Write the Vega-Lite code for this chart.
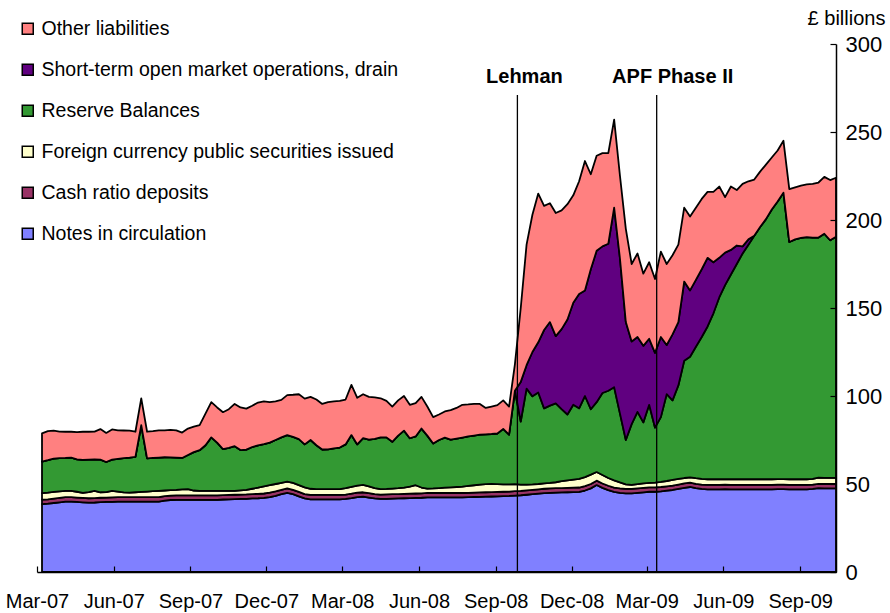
{
  "$schema": "https://vega.github.io/schema/vega-lite/v6.json",
  "autosize": "none",
  "width": 799,
  "height": 528,
  "padding": {"left": 37, "top": 44, "right": 54, "bottom": 41},
  "background": "white",
  "config": {"view": {"stroke": null}, "font": "Liberation Sans"},
  "layer": [
    {
      "data": {"values": [
        {"date":"2007-03-07","notes":38.6,"cash":2.5,"foreign":3.7,"reserves":17.9,"omo":0,"other":16.1},
        {"date":"2007-03-14","notes":38.8,"cash":2.5,"foreign":3.8,"reserves":18.4,"omo":0,"other":16.5},
        {"date":"2007-03-21","notes":39.2,"cash":2.5,"foreign":3.8,"reserves":18.9,"omo":0,"other":15.9},
        {"date":"2007-03-28","notes":39.6,"cash":2.5,"foreign":3.7,"reserves":18.9,"omo":0,"other":15.1},
        {"date":"2007-04-04","notes":40,"cash":2.5,"foreign":3.6,"reserves":18.7,"omo":0,"other":14.9},
        {"date":"2007-04-11","notes":40,"cash":2.5,"foreign":3.6,"reserves":18.9,"omo":0,"other":14.7},
        {"date":"2007-04-18","notes":39.8,"cash":2.5,"foreign":3.3,"reserves":18.4,"omo":0,"other":15.5},
        {"date":"2007-04-25","notes":39.6,"cash":2.5,"foreign":2.9,"reserves":18.7,"omo":0,"other":16},
        {"date":"2007-05-02","notes":39.4,"cash":2.5,"foreign":3.5,"reserves":18.5,"omo":0,"other":15.8},
        {"date":"2007-05-09","notes":39.5,"cash":2.5,"foreign":4.1,"reserves":17.9,"omo":0,"other":15.8},
        {"date":"2007-05-16","notes":39.7,"cash":2.5,"foreign":3.1,"reserves":18.5,"omo":0,"other":17.4},
        {"date":"2007-05-23","notes":39.8,"cash":2.5,"foreign":3.1,"reserves":17.1,"omo":0,"other":16.5},
        {"date":"2007-05-30","notes":39.9,"cash":2.5,"foreign":3.7,"reserves":17.7,"omo":0,"other":17.2},
        {"date":"2007-06-06","notes":40,"cash":2.5,"foreign":3.2,"reserves":18.6,"omo":0,"other":16.2},
        {"date":"2007-06-13","notes":40,"cash":2.5,"foreign":2.7,"reserves":19.5,"omo":0,"other":15.7},
        {"date":"2007-06-20","notes":40,"cash":2.5,"foreign":2.6,"reserves":19.9,"omo":0,"other":15.3},
        {"date":"2007-06-27","notes":40,"cash":2.5,"foreign":2.8,"reserves":20.1,"omo":0,"other":14.3},
        {"date":"2007-07-04","notes":40,"cash":2.5,"foreign":3.0,"reserves":38,"omo":0,"other":15.2},
        {"date":"2007-07-11","notes":40,"cash":2.5,"foreign":3.2,"reserves":18.9,"omo":0,"other":15.1},
        {"date":"2007-07-18","notes":40,"cash":2.5,"foreign":3.4,"reserves":18.9,"omo":0,"other":15.2},
        {"date":"2007-07-25","notes":40,"cash":2.5,"foreign":3.6,"reserves":18.9,"omo":0,"other":15.5},
        {"date":"2007-08-01","notes":40.6,"cash":2.5,"foreign":3.2,"reserves":18.9,"omo":0,"other":15.3},
        {"date":"2007-08-08","notes":40.9,"cash":2.5,"foreign":3.1,"reserves":18.6,"omo":0,"other":15.7},
        {"date":"2007-08-15","notes":41,"cash":2.5,"foreign":3.2,"reserves":18.3,"omo":0,"other":15.5},
        {"date":"2007-08-22","notes":41,"cash":2.5,"foreign":3.5,"reserves":17.8,"omo":0,"other":14.4},
        {"date":"2007-08-29","notes":41,"cash":2.5,"foreign":3.6,"reserves":19.4,"omo":0,"other":15},
        {"date":"2007-09-05","notes":41,"cash":2.5,"foreign":2.8,"reserves":21.8,"omo":0,"other":14.5},
        {"date":"2007-09-12","notes":41,"cash":2.5,"foreign":2.6,"reserves":23.1,"omo":0,"other":14.3},
        {"date":"2007-09-19","notes":41,"cash":2.5,"foreign":2.6,"reserves":25.9,"omo":0,"other":18},
        {"date":"2007-09-26","notes":41,"cash":2.5,"foreign":2.6,"reserves":30.4,"omo":0,"other":20},
        {"date":"2007-10-03","notes":41,"cash":2.5,"foreign":2.6,"reserves":27.4,"omo":0,"other":20},
        {"date":"2007-10-10","notes":41.2,"cash":2.5,"foreign":2.4,"reserves":23.7,"omo":0,"other":21},
        {"date":"2007-10-17","notes":41.3,"cash":2.5,"foreign":2.3,"reserves":24.4,"omo":0,"other":22},
        {"date":"2007-10-24","notes":41.4,"cash":2.5,"foreign":2.2,"reserves":25.4,"omo":0,"other":24},
        {"date":"2007-10-31","notes":41.5,"cash":2.5,"foreign":2.4,"reserves":22.9,"omo":0,"other":24.2},
        {"date":"2007-11-07","notes":41.6,"cash":2.5,"foreign":2.6,"reserves":22.8,"omo":0,"other":23.3},
        {"date":"2007-11-14","notes":41.8,"cash":2.5,"foreign":3.0,"reserves":23.7,"omo":0,"other":23.5},
        {"date":"2007-11-21","notes":41.9,"cash":2.5,"foreign":3.5,"reserves":24.1,"omo":0,"other":24.3},
        {"date":"2007-11-28","notes":42.1,"cash":2.5,"foreign":4.0,"reserves":24,"omo":0,"other":24.4},
        {"date":"2007-12-05","notes":42.6,"cash":2.5,"foreign":4.2,"reserves":24.2,"omo":0,"other":23},
        {"date":"2007-12-12","notes":43.3,"cash":2.5,"foreign":4.2,"reserves":25,"omo":0,"other":22},
        {"date":"2007-12-19","notes":44.2,"cash":2.5,"foreign":4.0,"reserves":25.8,"omo":0,"other":21.3},
        {"date":"2007-12-26","notes":45,"cash":2.5,"foreign":3.9,"reserves":26.4,"omo":0,"other":22.7},
        {"date":"2008-01-02","notes":44.2,"cash":2.5,"foreign":3.9,"reserves":26.2,"omo":0,"other":23.9},
        {"date":"2008-01-09","notes":43,"cash":2.5,"foreign":3.9,"reserves":26.1,"omo":0,"other":25.5},
        {"date":"2008-01-16","notes":41.8,"cash":2.5,"foreign":3.8,"reserves":24.4,"omo":0,"other":26},
        {"date":"2008-01-23","notes":41.3,"cash":2.5,"foreign":3.5,"reserves":27.7,"omo":0,"other":24.5},
        {"date":"2008-01-30","notes":41.3,"cash":2.5,"foreign":3.3,"reserves":24.9,"omo":0,"other":26},
        {"date":"2008-02-06","notes":41.3,"cash":2.5,"foreign":3.3,"reserves":22.5,"omo":0,"other":25.9},
        {"date":"2008-02-13","notes":41.3,"cash":2.5,"foreign":3.3,"reserves":22.6,"omo":0,"other":26.8},
        {"date":"2008-02-20","notes":41.3,"cash":2.5,"foreign":3.3,"reserves":23.2,"omo":0,"other":26.6},
        {"date":"2008-02-27","notes":41.3,"cash":2.5,"foreign":3.3,"reserves":23.6,"omo":0,"other":26.5},
        {"date":"2008-03-05","notes":41.5,"cash":2.5,"foreign":3.6,"reserves":24.9,"omo":0,"other":25.5},
        {"date":"2008-03-12","notes":42,"cash":2.5,"foreign":3.9,"reserves":29.4,"omo":0,"other":28.5},
        {"date":"2008-03-19","notes":42.6,"cash":2.5,"foreign":4.0,"reserves":23.4,"omo":0,"other":26.5},
        {"date":"2008-03-26","notes":42.8,"cash":2.5,"foreign":4.2,"reserves":26.5,"omo":0,"other":25},
        {"date":"2008-04-02","notes":42.3,"cash":2.5,"foreign":3.8,"reserves":26.6,"omo":0,"other":24.3},
        {"date":"2008-04-09","notes":41.8,"cash":2.5,"foreign":3.3,"reserves":28.1,"omo":0,"other":23.5},
        {"date":"2008-04-16","notes":41.5,"cash":2.5,"foreign":3.1,"reserves":29.4,"omo":0,"other":22.2},
        {"date":"2008-04-23","notes":41.6,"cash":2.5,"foreign":3.1,"reserves":29.3,"omo":0,"other":20.7},
        {"date":"2008-04-30","notes":41.7,"cash":2.5,"foreign":3.2,"reserves":26.6,"omo":0,"other":20},
        {"date":"2008-05-07","notes":41.8,"cash":2.5,"foreign":3.3,"reserves":29.9,"omo":0,"other":20},
        {"date":"2008-05-14","notes":41.9,"cash":2.5,"foreign":3.5,"reserves":32.4,"omo":0,"other":19.7},
        {"date":"2008-05-21","notes":42,"cash":2.5,"foreign":4.0,"reserves":27.5,"omo":0,"other":19},
        {"date":"2008-05-28","notes":42.1,"cash":2.5,"foreign":4.7,"reserves":27.7,"omo":0,"other":19},
        {"date":"2008-06-04","notes":42.2,"cash":2.5,"foreign":3.3,"reserves":33.5,"omo":0,"other":18},
        {"date":"2008-06-11","notes":42.4,"cash":2.5,"foreign":2.5,"reserves":30.1,"omo":0,"other":16.5},
        {"date":"2008-06-18","notes":42.4,"cash":2.5,"foreign":2.6,"reserves":25.5,"omo":0,"other":15},
        {"date":"2008-06-25","notes":42.4,"cash":2.5,"foreign":2.8,"reserves":27.3,"omo":0,"other":14.5},
        {"date":"2008-07-02","notes":42.4,"cash":2.5,"foreign":3.0,"reserves":28.4,"omo":0,"other":14.9},
        {"date":"2008-07-09","notes":42.4,"cash":2.5,"foreign":3.2,"reserves":27.1,"omo":0,"other":16.8},
        {"date":"2008-07-16","notes":42.4,"cash":2.5,"foreign":3.4,"reserves":27.5,"omo":0,"other":17.4},
        {"date":"2008-07-23","notes":42.4,"cash":2.5,"foreign":3.6,"reserves":27.9,"omo":0,"other":18.6},
        {"date":"2008-07-30","notes":42.5,"cash":2.5,"foreign":3.9,"reserves":28.1,"omo":0,"other":18.2},
        {"date":"2008-08-06","notes":42.6,"cash":2.5,"foreign":4.2,"reserves":28.2,"omo":0,"other":18},
        {"date":"2008-08-13","notes":42.7,"cash":2.5,"foreign":4.4,"reserves":28.4,"omo":0,"other":17.5},
        {"date":"2008-08-20","notes":42.8,"cash":2.5,"foreign":4.6,"reserves":28.3,"omo":0,"other":15},
        {"date":"2008-08-27","notes":42.9,"cash":2.5,"foreign":4.6,"reserves":28.4,"omo":0,"other":15.6},
        {"date":"2008-09-03","notes":43,"cash":2.5,"foreign":4.4,"reserves":28.8,"omo":0,"other":16.1},
        {"date":"2008-09-10","notes":43.1,"cash":2.5,"foreign":4.2,"reserves":31.5,"omo":0,"other":16.2},
        {"date":"2008-09-17","notes":43.2,"cash":2.5,"foreign":4.1,"reserves":28.2,"omo":0,"other":16},
        {"date":"2008-09-24","notes":43.4,"cash":2.5,"foreign":4.0,"reserves":53.1,"omo":0,"other":15},
        {"date":"2008-10-01","notes":43.6,"cash":2.5,"foreign":3.6,"reserves":35.8,"omo":22.5,"other":42},
        {"date":"2008-10-08","notes":43.9,"cash":2.5,"foreign":3.3,"reserves":54.5,"omo":13.3,"other":68.5},
        {"date":"2008-10-15","notes":44.2,"cash":2.5,"foreign":3.1,"reserves":50,"omo":25.2,"other":78},
        {"date":"2008-10-22","notes":44.5,"cash":2.5,"foreign":3.0,"reserves":52,"omo":28.5,"other":84.5},
        {"date":"2008-10-29","notes":44.8,"cash":2.5,"foreign":3.0,"reserves":42.7,"omo":44.5,"other":70.5},
        {"date":"2008-11-05","notes":45,"cash":2.5,"foreign":3.1,"reserves":43.9,"omo":47.5,"other":67.5},
        {"date":"2008-11-12","notes":45.1,"cash":2.5,"foreign":3.4,"reserves":44.8,"omo":38.2,"other":70},
        {"date":"2008-11-19","notes":45.2,"cash":2.5,"foreign":3.9,"reserves":40.9,"omo":45.5,"other":67.5},
        {"date":"2008-11-26","notes":45.3,"cash":2.5,"foreign":4.3,"reserves":37.4,"omo":54,"other":65.5},
        {"date":"2008-12-03","notes":45.4,"cash":2.5,"foreign":4.6,"reserves":42.5,"omo":58,"other":61},
        {"date":"2008-12-10","notes":45.5,"cash":2.5,"foreign":4.9,"reserves":40.1,"omo":65,"other":64},
        {"date":"2008-12-17","notes":46.3,"cash":2.5,"foreign":5.1,"reserves":46.1,"omo":60,"other":73.5},
        {"date":"2008-12-24","notes":47.5,"cash":2.5,"foreign":5.3,"reserves":37.2,"omo":79.5,"other":54},
        {"date":"2008-12-31","notes":49.4,"cash":2.5,"foreign":4.9,"reserves":39.7,"omo":86,"other":54},
        {"date":"2009-01-07","notes":47.8,"cash":2.5,"foreign":4.8,"reserves":46.6,"omo":83.3,"other":53},
        {"date":"2009-01-14","notes":46.5,"cash":2.5,"foreign":4.4,"reserves":49.6,"omo":83.5,"other":51.5},
        {"date":"2009-01-21","notes":45.5,"cash":2.5,"foreign":4.1,"reserves":52.9,"omo":102,"other":50},
        {"date":"2009-01-28","notes":45,"cash":2.5,"foreign":3.4,"reserves":39.1,"omo":88,"other":47},
        {"date":"2009-02-04","notes":44.7,"cash":2.5,"foreign":2.6,"reserves":25.2,"omo":67,"other":53},
        {"date":"2009-02-11","notes":44.7,"cash":2.5,"foreign":2.3,"reserves":34.5,"omo":47,"other":44},
        {"date":"2009-02-18","notes":45,"cash":2.5,"foreign":2.4,"reserves":41.1,"omo":42.5,"other":47.5},
        {"date":"2009-02-25","notes":45.3,"cash":2.5,"foreign":2.5,"reserves":34.7,"omo":43.5,"other":41},
        {"date":"2009-03-04","notes":45.6,"cash":2.5,"foreign":2.5,"reserves":44.4,"omo":37.5,"other":43.5},
        {"date":"2009-03-11","notes":45.6,"cash":2.5,"foreign":2.7,"reserves":31.2,"omo":42.5,"other":42},
        {"date":"2009-03-18","notes":45.8,"cash":2.5,"foreign":2.9,"reserves":36.8,"omo":45.5,"other":48.5},
        {"date":"2009-03-25","notes":46.2,"cash":2.5,"foreign":3.0,"reserves":49.3,"omo":28,"other":46},
        {"date":"2009-04-01","notes":46.6,"cash":2.5,"foreign":3.2,"reserves":45.2,"omo":37.5,"other":45},
        {"date":"2009-04-08","notes":47.2,"cash":2.5,"foreign":3.2,"reserves":53.1,"omo":36,"other":44},
        {"date":"2009-04-15","notes":47.8,"cash":2.5,"foreign":3.1,"reserves":66.6,"omo":45,"other":42},
        {"date":"2009-04-22","notes":48.3,"cash":2.5,"foreign":3.0,"reserves":68.5,"omo":37.7,"other":42},
        {"date":"2009-04-29","notes":47.6,"cash":2.5,"foreign":3.2,"reserves":74.7,"omo":38,"other":41},
        {"date":"2009-05-06","notes":47.2,"cash":2.5,"foreign":3.2,"reserves":80.6,"omo":38.5,"other":40},
        {"date":"2009-05-13","notes":47,"cash":2.5,"foreign":3.2,"reserves":86.8,"omo":39,"other":37.5},
        {"date":"2009-05-20","notes":47,"cash":2.5,"foreign":3.2,"reserves":94.3,"omo":29,"other":40},
        {"date":"2009-05-27","notes":47,"cash":2.5,"foreign":3.2,"reserves":103.3,"omo":22.5,"other":40.5},
        {"date":"2009-06-03","notes":47.1,"cash":2.5,"foreign":3.2,"reserves":110.2,"omo":18.5,"other":31.5},
        {"date":"2009-06-10","notes":47,"cash":2.5,"foreign":3.2,"reserves":116.3,"omo":14,"other":36},
        {"date":"2009-06-17","notes":47,"cash":2.5,"foreign":3.2,"reserves":122.3,"omo":10.5,"other":31.5},
        {"date":"2009-06-24","notes":47,"cash":2.5,"foreign":3.2,"reserves":128.3,"omo":4,"other":35.5},
        {"date":"2009-07-01","notes":47,"cash":2.5,"foreign":3.2,"reserves":133.3,"omo":3,"other":33},
        {"date":"2009-07-08","notes":47,"cash":2.5,"foreign":3.2,"reserves":138.3,"omo":0,"other":32},
        {"date":"2009-07-15","notes":47,"cash":2.5,"foreign":3.2,"reserves":143.3,"omo":0,"other":31.5},
        {"date":"2009-07-22","notes":47,"cash":2.5,"foreign":3.2,"reserves":147.8,"omo":0,"other":31},
        {"date":"2009-07-29","notes":47,"cash":2.5,"foreign":3.2,"reserves":153.3,"omo":0,"other":29.5},
        {"date":"2009-08-05","notes":47.1,"cash":2.5,"foreign":3.2,"reserves":157.7,"omo":0,"other":29},
        {"date":"2009-08-12","notes":47.1,"cash":2.5,"foreign":3.2,"reserves":162.7,"omo":0,"other":29.5},
        {"date":"2009-08-19","notes":47,"cash":2.5,"foreign":3.2,"reserves":134.8,"omo":0,"other":30},
        {"date":"2009-08-26","notes":47,"cash":2.5,"foreign":3.2,"reserves":136.3,"omo":0,"other":29.5},
        {"date":"2009-09-02","notes":47,"cash":2.5,"foreign":3.2,"reserves":137.1,"omo":0,"other":29.7},
        {"date":"2009-09-09","notes":47,"cash":2.5,"foreign":3.2,"reserves":137.6,"omo":0,"other":29.9},
        {"date":"2009-09-16","notes":47.2,"cash":2.5,"foreign":3.2,"reserves":137.1,"omo":0,"other":30.5},
        {"date":"2009-09-23","notes":47.6,"cash":2.5,"foreign":3.5,"reserves":136.4,"omo":0,"other":31.3},
        {"date":"2009-09-30","notes":47.5,"cash":2.5,"foreign":3.5,"reserves":138.7,"omo":0,"other":32.3},
        {"date":"2009-10-07","notes":47.5,"cash":2.5,"foreign":3.5,"reserves":135,"omo":0,"other":34.2},
        {"date":"2009-10-14","notes":47.5,"cash":2.5,"foreign":3.5,"reserves":137,"omo":0,"other":33.5}
      ]},
      "transform": [
        {"fold": ["notes","cash","foreign","reserves","omo","other"], "as": ["series","value"]},
        {"calculate": "indexof(['notes','cash','foreign','reserves','omo','other'], datum.series)", "as": "stackOrder"}
      ],
      "mark": {"type": "area", "stroke": "black", "strokeWidth": 1.8, "strokeJoin": "round", "interpolate": "linear"},
      "encoding": {
        "x": {
          "field": "date", "type": "temporal",
          "scale": {"type": "utc", "domain": [{"year":2007,"month":3,"date":1,"utc":true},{"year":2009,"month":10,"date":14,"utc":true}]},
          "axis": {
            "title": null, "format": "%b-%y", "grid": false,
            "values": [
              {"year":2007,"month":3,"date":1,"utc":true},{"year":2007,"month":6,"date":1,"utc":true},{"year":2007,"month":9,"date":1,"utc":true},{"year":2007,"month":12,"date":1,"utc":true},
              {"year":2008,"month":3,"date":1,"utc":true},{"year":2008,"month":6,"date":1,"utc":true},{"year":2008,"month":9,"date":1,"utc":true},{"year":2008,"month":12,"date":1,"utc":true},
              {"year":2009,"month":3,"date":1,"utc":true},{"year":2009,"month":6,"date":1,"utc":true},{"year":2009,"month":9,"date":1,"utc":true}
            ],
            "labelFont": "Liberation Sans", "labelFontSize": 20, "labelColor": "black",
            "labelPadding": 25, "labelFlush": false, "labelOverlap": false,
            "tickSize": -6, "tickColor": "black", "tickWidth": 1.2,
            "domainColor": "black", "domainWidth": 1.5, "zindex": 1
          }
        },
        "y": {
          "field": "value", "type": "quantitative", "stack": "zero",
          "scale": {"domain": [0, 300], "nice": false},
          "axis": {
            "orient": "right", "values": [0,50,100,150,200,250,300], "grid": false,
            "title": "£ billions", "titleAngle": 0, "titleX": 10, "titleY": -26,
            "titleAlign": "center", "titleBaseline": "middle",
            "titleFont": "Liberation Sans", "titleFontSize": 20, "titleFontWeight": "normal", "titleColor": "black",
            "labelFont": "Liberation Sans", "labelFontSize": 22, "labelColor": "black", "labelPadding": 15,
            "tickSize": -6, "tickColor": "black", "tickWidth": 1.2,
            "domainColor": "black", "domainWidth": 1.5, "zindex": 1
          }
        },
        "color": {
          "field": "series", "type": "nominal",
          "scale": {
            "domain": ["notes","cash","foreign","reserves","omo","other"],
            "range": ["#8080FF","#993366","#FFFFCC","#339933","#600080","#FF8080"]
          },
          "legend": {
            "orient": "none", "legendX": -19, "legendY": -25, "padding": 0,
            "title": null,
            "values": ["other","omo","reserves","foreign","cash","notes"],
            "labelExpr": "datum.value == 'other' ? 'Other liabilities' : datum.value == 'omo' ? 'Short-term open market operations, drain' : datum.value == 'reserves' ? 'Reserve Balances' : datum.value == 'foreign' ? 'Foreign currency public securities issued' : datum.value == 'cash' ? 'Cash ratio deposits' : 'Notes in circulation'",
            "symbolType": "square", "symbolSize": 121, "symbolStrokeColor": "black", "symbolStrokeWidth": 1.5,
            "labelFont": "Liberation Sans", "labelFontSize": 19.5, "labelColor": "black", "labelOffset": 4,
            "rowPadding": 20, "labelLimit": 600
          }
        },
        "order": {"field": "stackOrder", "type": "quantitative", "sort": "ascending"}
      }
    },
    {
      "data": {"values": [
        {"event": "Lehman", "date": "2008-09-27"},
        {"event": "APF Phase II", "date": "2009-03-13"}
      ]},
      "mark": {"type": "rule", "color": "black", "strokeWidth": 1.3},
      "encoding": {
        "x": {"field": "date", "type": "temporal"},
        "y": {"datum": 271},
        "y2": {"datum": 0}
      }
    },
    {
      "data": {"values": [
        {"event": "Lehman", "date": "2008-09-27"},
        {"event": "APF Phase II", "date": "2009-03-13"}
      ]},
      "mark": {"type": "text", "font": "Liberation Sans", "fontSize": 20, "fontWeight": "bold", "color": "black", "align": "center", "baseline": "middle",
        "dx": {"expr": "datum.event == 'Lehman' ? 7 : 16"}},
      "encoding": {
        "x": {"field": "date", "type": "temporal"},
        "y": {"datum": 281},
        "text": {"field": "event"}
      }
    }
  ]
}
